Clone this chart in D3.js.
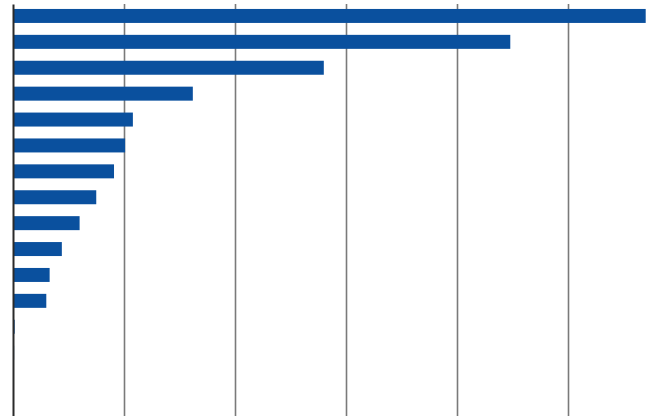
<!DOCTYPE html>
<html>
<head>
<meta charset="utf-8">
<script src="https://cdn.jsdelivr.net/npm/d3@7"></script>
<style>
  body { margin: 0; background: #fff; }
  svg { display: block; }
</style>
</head>
<body>
<div id="chart"></div>
<script>
// Categories (no labels shown in the picture) and their values
var categories = ["c1", "c2", "c3", "c4", "c5", "c6", "c7", "c8", "c9", "c10", "c11", "c12", "c13", "c14"];
var values = [570, 448, 280, 162, 108, 101, 91, 75, 60, 44, 33, 30, 1.5, 1];
var tickValues = [0, 100, 200, 300, 400, 500];

var width = 666, height = 416;

var svg = d3.select("#chart")
  .append("svg")
    .attr("width", width)
    .attr("height", height);

// Scales
var x = d3.scaleLinear()
    .domain([0, 600])
    .range([13, 679]);

var step = 25.9;
var y = d3.scaleBand()
    .domain(categories)
    .range([3, 3 + step * categories.length])
    .paddingInner(0.46)
    .paddingOuter(0.23);

// Vertical gridlines
svg.append("g")
    .attr("transform", "translate(0,416)")
    .call(d3.axisBottom(x).tickValues(tickValues.slice(1)).tickSize(-412).tickFormat(""))
    .call(function(g) {
      g.select(".domain").remove();
      g.selectAll("line").attr("stroke", "#7a7a7a").attr("stroke-width", 1.6);
    });

// Bars
svg.selectAll("rect.bar")
    .data(values)
    .enter()
    .append("rect")
      .attr("class", "bar")
      .attr("x", x(0))
      .attr("y", function(d, i) { return y(categories[i]); })
      .attr("width", function(d) { return x(d) - x(0); })
      .attr("height", y.bandwidth())
      .attr("fill", "#0a509e");

// Zero axis line
svg.append("g")
    .attr("transform", "translate(" + x(0) + ",0)")
    .call(d3.axisLeft(d3.scaleLinear().range([4, 416])).ticks(0).tickSize(0))
    .call(function(g) {
      g.select(".domain").attr("stroke", "#2a2a2a").attr("stroke-width", 2);
      g.selectAll("text").remove();
    });
</script>
</body>
</html>
